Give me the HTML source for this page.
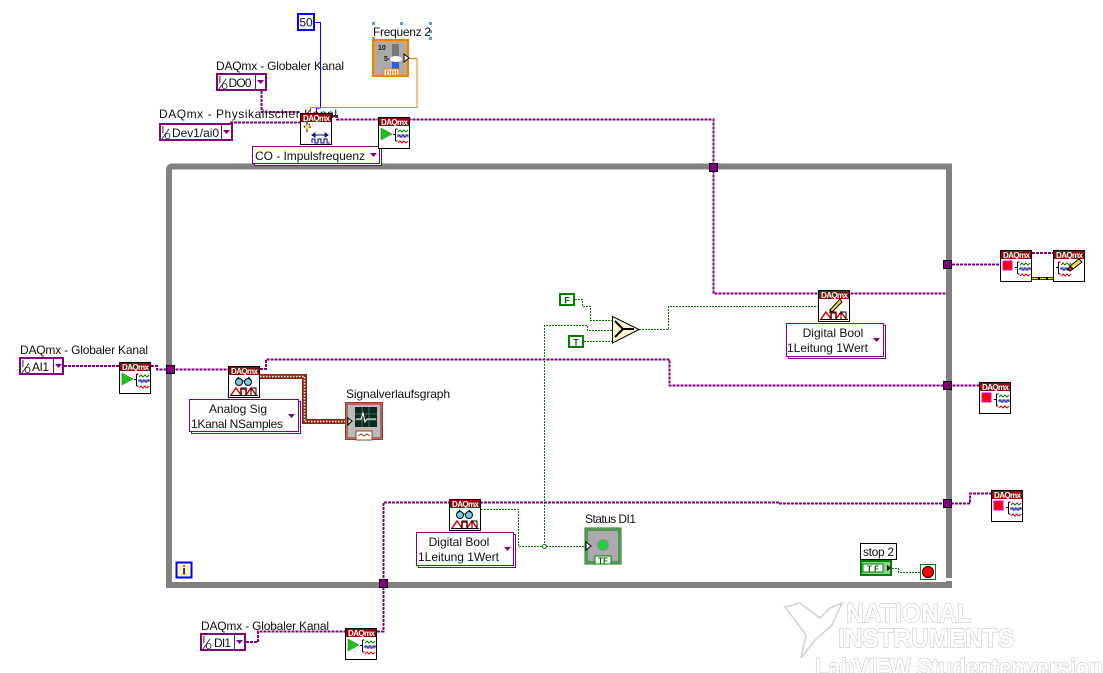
<!DOCTYPE html>
<html><head><meta charset="utf-8"><style>
html,body{margin:0;padding:0;background:#fff}
svg{display:block}
text{font-family:"Liberation Sans",sans-serif;font-size:12px;fill:#111}
.p{fill:none;stroke:#800080;stroke-width:2;stroke-dasharray:3 1}
.g{fill:none;stroke:#008000;stroke-width:1;stroke-dasharray:2 1}
.o{fill:none;stroke:#f08000;stroke-width:1}
.box{fill:#fff;stroke:#800080;stroke-width:2}
.en{fill:#fff;stroke:#800080;stroke-width:1}
.h{font:bold 8px "Liberation Sans",sans-serif;fill:#fff}
.t{fill:#800080}
.tn{fill:#800080;stroke:#000;stroke-width:1}
.wm{font-family:"Liberation Sans",sans-serif;font-weight:bold;fill:#fff;stroke:#c8c8c8;stroke-width:1.2;paint-order:stroke}
</style></head><body>
<svg xmlns="http://www.w3.org/2000/svg" width="1103" height="673" viewBox="0 0 1103 673">
<defs>
<g id="base"><rect x=".5" y=".5" width="31" height="31" fill="#fff" stroke="#000"/><rect x="1" y="1" width="30" height="8" fill="#8e0a0a"/></g>
<g id="bracket">
<path d="M15 17.5h2M17.5 12v12M17.5 12h2M17.5 24h2" stroke="#000" fill="none"/>
<path d="M20 15l2-2 2 2 2-2 2 2 2-2" stroke="#008000" fill="none"/>
<path d="M20 20v-2h2v2h2v-2h2v2h2v-2h2v2" stroke="#000090" fill="none"/>
<path d="M20 26l2-2 2 2 2-2 2 2 2-2" stroke="#e00000" fill="none"/>
</g>
<g id="play"><path d="M3 11l11 6-11 6z" fill="#20c020" stroke="#088008" stroke-width=".5"/></g>
<g id="stopi"><rect x="3" y="11" width="9" height="9" fill="#ff0000" stroke="#e000e0"/></g>
<g id="wave"><path d="M3 29l5-7 5 7M13 29v-6h5v6M18 29l5-7 5 7" fill="none" stroke="#e00000" stroke-width="1.5"/><path d="M2 29.500h28" stroke="#000"/><path d="M13 29v-7h5v7M23 29v-7h5v7" fill="none" stroke="#000"/></g>
<g id="glasses"><circle cx="11" cy="16" r="3.500" fill="#70d0e0" stroke="#000"/><circle cx="20" cy="16" r="3.500" fill="#70d0e0" stroke="#000"/><path d="M14 15h3M8 14l3-3M23 14l-3-3" stroke="#000" fill="none"/></g>
</defs>

<!-- Loop -->
<path d="M169 585V170q0-3.500 3-3.500H949V585H169z" fill="#fff" stroke="#808080" stroke-width="6"/>
<rect x="941" y="578" width="12" height="3" fill="#fff"/>
<rect x="176.500" y="562.500" width="15" height="15" fill="#fff" stroke="#0000ff" stroke-width="2"/>
<rect x="178" y="564" width="12" height="12" fill="#fff8a0"/>
<text x="184" y="574.500" text-anchor="middle" style="font-size:12px;font-weight:bold;fill:#0000c0">i</text>

<!-- Purple wires -->
<path class="p" d="M261.500 91V112H300"/>
<path class="p" d="M230 122.500H300"/>
<path class="p" d="M332 116H337V119.500H713.500V293.500H946"/>
<path class="p" d="M952 264.500H1000"/>
<path class="p" d="M1032 253H1053"/>
<path class="p" d="M64 366H119"/>
<path class="p" d="M151 366H157V369.500H228"/>
<path class="p" d="M260 369H266V359.500H669.500V385.500H979"/>
<path class="p" d="M246 642H258V631.500H345"/>
<path class="p" d="M377 631.500H383.500V502.500H780V503.500H970V493.500H991"/>

<!-- Blue / orange wires -->
<path d="M315 22.500H320.500V108H316.500V113" fill="none" stroke="#0000ff"/>
<path class="o" d="M408 58.500H417V107.500H310.500V113"/>

<!-- Brown wire -->
<path d="M260 376.500H304.500V421.500H345" fill="none" stroke="#8a2a10" stroke-width="5"/>
<path d="M260 376.500H304.500V421.500H345" fill="none" stroke="#fff" stroke-width="1.500" stroke-dasharray="1.500 1.500"/>

<!-- Yellow error wire -->
<path d="M1032 278.500H1053" stroke="#000" stroke-width="3"/>
<path d="M1032 278.500H1053" stroke="#f0e020" stroke-width="1.500" stroke-dasharray="6 2"/>

<!-- Green wires -->
<path class="g" d="M481 509.500H518.500V546.500H584"/>
<path class="g" d="M544.500 546V325.500H587.500V330.500H612"/>
<path class="g" d="M575 299.500H582.500V306.500H590.500V320.500H612"/>
<path class="g" d="M584 341.500H612"/>
<path class="g" d="M639 329.500H668.500V306.500H818"/>
<path class="g" d="M892 568.500H898.500V572.500H920"/>
<circle cx="544.500" cy="546.500" r="2" fill="#fff" stroke="#008000"/>

<!-- Tunnels -->
<rect class="tn" x="709.500" y="163.500" width="8" height="8"/>
<rect class="tn" x="943.500" y="260.500" width="8" height="8"/>
<rect class="tn" x="943.500" y="381.500" width="8" height="8"/>
<rect class="tn" x="943.500" y="499.500" width="8" height="8"/>
<rect class="tn" x="166.500" y="365.500" width="8" height="8"/>
<rect class="tn" x="379.500" y="579.500" width="8" height="8"/>

<!-- Constant 50 -->
<rect x="298" y="14" width="16" height="16" fill="#fff" stroke="#0000ff" stroke-width="2"/>
<text x="306" y="26.500" text-anchor="middle">50</text>

<!-- Frequenz 2 -->
<g fill="#50a0f0"><rect x="372" y="22" width="3" height="3"/><rect x="400" y="22" width="3" height="3"/><rect x="429" y="22" width="3" height="3"/><rect x="429" y="30" width="3" height="3"/><rect x="429" y="37" width="3" height="3"/><rect x="372" y="37" width="3" height="3"/></g>
<text x="373" y="36" textLength="58">Frequenz 2</text>
<rect x="373" y="40" width="35" height="36" fill="#aaa" stroke="#f08000" stroke-width="2"/>
<rect x="375" y="42" width="31" height="32" fill="#aaa" stroke="#f0a040"/>
<rect x="392" y="44" width="7" height="26" fill="#777"/><rect x="392" y="60" width="7" height="9" fill="#3060d0"/><ellipse cx="396" cy="59" rx="6" ry="3" fill="#fff"/>
<text x="378" y="50" style="font-size:7px;font-weight:bold">10</text>
<text x="384" y="61" style="font-size:7px;font-weight:bold">5-</text>
<path d="M404 54l5 4-5 4z" fill="#fff" stroke="#000"/>
<rect x="384" y="69" width="15" height="7" fill="#fff" stroke="#f08000"/>
<text x="385.500" y="75.500" style="font-size:7px;font-weight:bold;fill:#f08000">DBL</text>

<!-- Labels -->
<text x="216" y="70" textLength="128">DAQmx - Globaler Kanal</text>
<text x="159" y="118" textLength="178">DAQmx - Physikalischer Kanal</text>
<text x="20" y="354" textLength="128">DAQmx - Globaler Kanal</text>
<text x="201" y="630" textLength="128">DAQmx - Globaler Kanal</text>
<text x="346" y="398" textLength="104">Signalverlaufsgraph</text>
<text x="585" y="523" textLength="51">Status DI1</text>

<!-- Control terminals -->
<g>
<rect class="box" x="217" y="74" width="49" height="16"/><path d="M255.500 74v16" stroke="#800080"/><path d="M257 80h7l-3.500 4z" class="t"/>
<text x="218.500" y="83" style="font-size:10px">I</text><path d="M219 89l7-10" stroke="#333"/><text x="221.500" y="89" style="font-size:8px">O</text>
<text x="228.500" y="87" textLength="23">DO0</text>
</g>
<g>
<rect class="box" x="160" y="124" width="72" height="16"/><path d="M221.500 124v16" stroke="#800080"/><path d="M223 130h7l-3.500 4z" class="t"/>
<text x="161.500" y="133" style="font-size:10px">I</text><path d="M162 139l7-10" stroke="#333"/><text x="164.500" y="139" style="font-size:8px">O</text>
<text x="172" y="137" textLength="47">Dev1/ai0</text>
</g>
<g>
<rect class="box" x="20" y="358" width="43" height="16"/><path d="M53.500 358v16" stroke="#800080"/><path d="M55 364h7l-3.500 4z" class="t"/>
<text x="21.500" y="367" style="font-size:10px">I</text><path d="M22 373l7-10" stroke="#333"/><text x="24.500" y="373" style="font-size:8px">O</text>
<text x="32" y="371" textLength="17">AI1</text>
</g>
<g>
<rect class="box" x="201" y="634" width="44" height="16"/><path d="M234.500 634v16" stroke="#800080"/><path d="M236 640h7l-3.500 4z" class="t"/>
<text x="202.500" y="643" style="font-size:10px">I</text><path d="M203 649l7-10" stroke="#333"/><text x="205.500" y="649" style="font-size:8px">O</text>
<text x="214" y="647" textLength="17">DI1</text>
</g>

<!-- Enums -->
<rect class="en" x="254.500" y="148.500" width="127" height="17"/>
<rect class="en" x="252.500" y="146.500" width="127" height="17"/>
<text x="255" y="160" textLength="110">CO - Impulsfrequenz</text>
<path d="M370 153h7l-3.500 4z" class="t"/>

<rect class="en" x="191.500" y="401.500" width="109" height="32"/>
<rect class="en" x="189.500" y="399.500" width="109" height="32"/>
<text x="238" y="413" text-anchor="middle">Analog Sig</text>
<text x="191" y="428" textLength="92">1Kanal NSamples</text>
<path d="M288 414h7l-3.500 4z" class="t"/>

<rect class="en" x="788.500" y="325.500" width="97" height="33"/>
<rect class="en" x="786.500" y="323.500" width="97" height="33"/>
<text x="833" y="337" text-anchor="middle">Digital Bool</text>
<text x="787" y="352" textLength="81">1Leitung 1Wert</text>
<path d="M873 338h7l-3.500 4z" class="t"/>

<rect class="en" x="418.500" y="534.500" width="97" height="33"/>
<rect class="en" x="416.500" y="532.500" width="97" height="33"/>
<text x="459" y="546" text-anchor="middle">Digital Bool</text>
<text x="418" y="561" textLength="81">1Leitung 1Wert</text>
<path d="M504 547h7l-3.500 4z" class="t"/>

<!-- DAQmx nodes -->
<g transform="translate(300,113)"><use href="#base"/><text class="h" x="3" y="8" textLength="27">DAQmx</text>
<path d="M7 16l-3-3M7 12v-3M7 16v3M4 14h7M10 11l-2 2" stroke="#000" fill="none"/><rect x="5" y="12" width="4" height="4" fill="#f0e040"/>
<path d="M12 22h16M12 22l3-2v4zM28 22l-3-2v4z" stroke="#000090" fill="#000090"/><path d="M12 30v-4h3v4h3v-4h3v4h3v-4h3v4h3" fill="none" stroke="#000090"/></g>
<g transform="translate(378,117)"><use href="#base"/><text class="h" x="3" y="8" textLength="27">DAQmx</text><use href="#play"/><use href="#bracket"/></g>
<g transform="translate(119,362)"><use href="#base"/><text class="h" x="3" y="8" textLength="27">DAQmx</text><use href="#play"/><use href="#bracket"/></g>
<g transform="translate(345,628)"><use href="#base"/><text class="h" x="3" y="8" textLength="27">DAQmx</text><use href="#play"/><use href="#bracket"/></g>
<g transform="translate(228,366)"><use href="#base"/><text class="h" x="3" y="8" textLength="27">DAQmx</text><use href="#glasses"/><use href="#wave"/></g>
<g transform="translate(449,499)"><use href="#base"/><text class="h" x="3" y="8" textLength="27">DAQmx</text><use href="#glasses"/><use href="#wave"/></g>
<g transform="translate(818,290)"><use href="#base"/><text class="h" x="3" y="8" textLength="27">DAQmx</text><path d="M12 20l2 2 10-10-2-3z" fill="#f0e040" stroke="#000"/><path d="M12 20l-1 3 3-1z" fill="#000"/><use href="#wave"/></g>
<g transform="translate(1000,250)"><use href="#base"/><text class="h" x="3" y="8" textLength="27">DAQmx</text><use href="#stopi"/><use href="#bracket"/></g>
<g transform="translate(979,382)"><use href="#base"/><text class="h" x="3" y="8" textLength="27">DAQmx</text><use href="#stopi"/><use href="#bracket"/></g>
<g transform="translate(991,490)"><use href="#base"/><text class="h" x="3" y="8" textLength="27">DAQmx</text><use href="#stopi"/><use href="#bracket"/></g>
<g transform="translate(1053,250)"><use href="#base"/><text class="h" x="3" y="8" textLength="27">DAQmx</text><g transform="translate(-12,0)"><use href="#bracket"/></g><path d="M17 16l9-7 3 3-9 7z" fill="#f0e040" stroke="#000"/><path d="M17 16l3 3-3 2-2-2z" fill="#e02020" stroke="#000"/></g>

<!-- Graph -->
<rect x="345.500" y="402.500" width="37" height="37" fill="#b0b0b0" stroke="#a04010"/>
<rect x="347" y="404" width="34" height="34" fill="#bbb" stroke="#902020"/>
<rect x="355" y="407" width="22" height="20" fill="#102820"/>
<path d="M355 414h22M355 420h22M362 407v20M369 407v20" stroke="#3a7060"/>
<path d="M356 419h5l2-6 2 9 2-3h9" stroke="#fff" fill="none"/>
<path d="M348 418l4 3-4 4z" fill="#fff" stroke="#000"/>
<rect x="356" y="431" width="16" height="9" fill="#fff" stroke="#a04010"/>
<path d="M358 436l3-2 3 2 3-2 3 2" stroke="#a04010" fill="none"/>

<!-- Bool constants -->
<rect x="560" y="294" width="14" height="11" fill="#fff" stroke="#008000" stroke-width="2"/>
<text x="567" y="303.500" text-anchor="middle" style="font-size:9px;font-weight:bold;fill:#006000">F</text>
<rect x="569" y="336" width="14" height="11" fill="#fff" stroke="#008000" stroke-width="2"/>
<text x="576" y="345.500" text-anchor="middle" style="font-size:9px;font-weight:bold;fill:#006000">T</text>

<!-- Select -->
<path d="M612.500 316.500L639 329.500L612.500 343z" fill="#fff8d0" stroke="#000"/>
<path d="M615 321l8 8-8 8M623 329h11" fill="none" stroke="#000" stroke-width="2"/>

<!-- Status DI1 -->
<rect x="585" y="528" width="36" height="36" fill="#aaa" stroke="#008000"/>
<rect x="587" y="530" width="32" height="32" fill="#aaa" stroke="#008000"/>
<circle cx="603" cy="545" r="5.500" fill="#20d040" stroke="#909090"/>
<path d="M586 542l5 4-5 4z" fill="#fff" stroke="#000"/>
<rect x="595" y="556" width="16" height="8" fill="#fff" stroke="#008000"/>
<text x="603" y="563.500" text-anchor="middle" style="font-size:8px;font-weight:bold;fill:#006000">TF</text>

<!-- stop 2 -->
<rect x="860.500" y="543.500" width="36" height="16" fill="#fff" stroke="#000"/>
<text x="863" y="556" textLength="31">stop 2</text>
<rect x="861" y="561" width="30" height="14" fill="#90d090" stroke="#008000" stroke-width="2"/>
<rect x="863" y="564" width="20" height="8" fill="#fff" stroke="#008000"/>
<text x="873" y="571.500" text-anchor="middle" style="font-size:8px;font-weight:bold;fill:#006000">T F</text>
<path d="M887 565l4 3-4 3z" fill="#000"/>
<rect x="920.500" y="564.500" width="15" height="15" fill="#fff" stroke="#008000"/>
<circle cx="928" cy="572" r="5.500" fill="#ff0000" stroke="#000"/>

<!-- Watermark -->
<path d="M785 607L800 603L820 618L830 608L842 603L832 625L815 640L801 658L806 635z" fill="#fff" stroke="#d0d0d0" stroke-width="1.5"/>
<text class="wm" x="846" y="622" textLength="126" lengthAdjust="spacingAndGlyphs" style="font-size:26px">NATIONAL</text>
<text class="wm" x="838" y="647" textLength="176" lengthAdjust="spacingAndGlyphs" style="font-size:26px">INSTRUMENTS</text>
<text class="wm" x="815" y="676" textLength="288" lengthAdjust="spacingAndGlyphs" style="font-size:25px">LabVIEW Studentenversion</text>
</svg>
</body></html>
